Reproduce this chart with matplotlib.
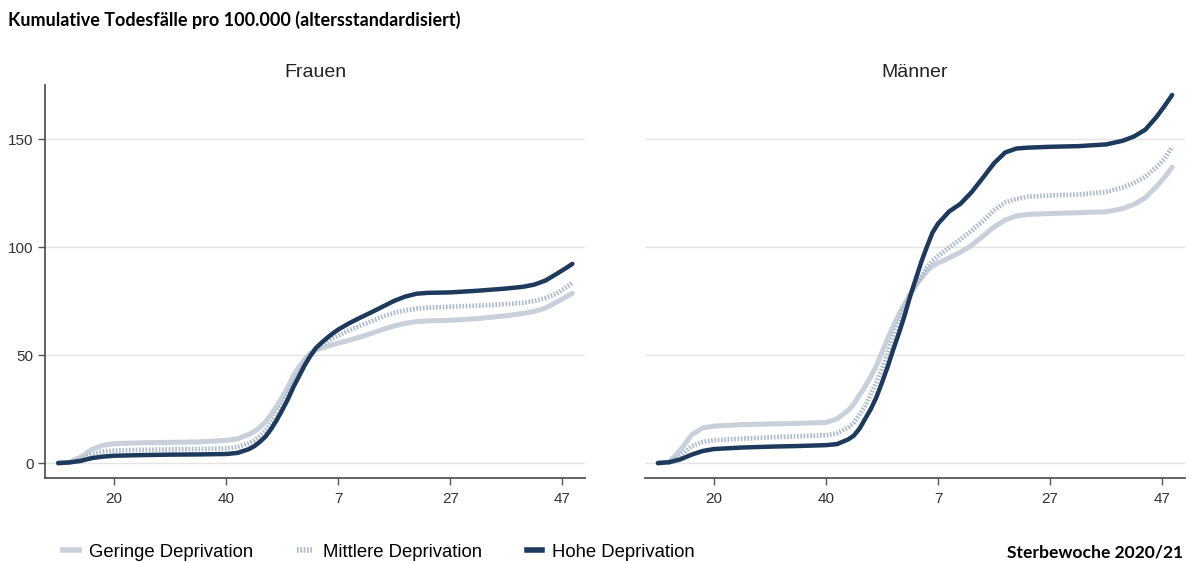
import matplotlib
matplotlib.use("Agg")
import matplotlib.pyplot as plt
from matplotlib.lines import Line2D

# continuous calendar-week index: 2020 weeks as-is, 2021 weeks + 53
weeks = [10, 12, 14, 16, 18, 20, 25, 30, 35, 40, 42, 44, 45, 46, 47, 48, 49, 50, 51, 52,
         53, 54, 55, 56, 57, 58, 59, 60, 62, 64, 66, 68, 70, 72, 74, 76, 80, 85, 90, 93,
         95, 97, 99, 100.5, 101.8]

frauen_geringe = [0, 0.3, 2.8, 6.3, 8.2, 9.0, 9.4, 9.6, 9.8, 10.5, 11.2, 13.2, 14.6, 16.5, 19, 22.5, 26.2, 30.5, 35, 40.5,
                  44.5, 48, 50.7, 52.3, 53.2, 54, 54.8, 55.5, 56.9, 58.4, 60.1, 61.9, 63.5, 64.7, 65.5, 65.8, 66.1, 66.9, 68.2, 69.3,
                  70.2, 71.8, 74.5, 76.7, 78.6]
frauen_mittlere = [0, 0.3, 1.8, 4.0, 5.3, 5.8, 6.1, 6.3, 6.5, 6.8, 7.4, 9.2, 10.5, 12.5, 14.8, 18.5, 22.8, 27.3, 32, 37.5,
                   42, 46.6, 50.2, 53, 54.8, 56.2, 57.7, 59, 61.5, 63.7, 65.7, 67.9, 69.6, 70.7, 71.5, 71.9, 72.4, 72.9, 73.6, 74.2,
                   75, 76.4, 78.5, 81, 83.5]
frauen_hohe = [0, 0.3, 1.0, 2.3, 3.0, 3.4, 3.7, 3.9, 4.0, 4.2, 4.7, 6.4, 7.8, 9.8, 12.2, 15.7, 19.8, 24.5, 29.5, 35.2,
               40.2, 45.2, 49.5, 53.2, 55.7, 57.9, 60, 61.8, 64.8, 67.4, 69.9, 72.5, 75.1, 77.1, 78.4, 78.8, 79, 79.8, 80.8, 81.6,
               82.6, 84.5, 87.6, 90, 92.2]

maenner_geringe = [0, 0.5, 6, 13, 16.3, 17.1, 17.8, 18.1, 18.4, 18.8, 20.5, 24.5, 27.5, 31.5, 35.5, 40, 45, 51.3, 57.5, 63.4,
                   68.8, 73.5, 78, 82.5, 85.5, 88.8, 91.2, 92.6, 95, 97.6, 100.8, 105, 109.3, 112.5, 114.4, 115.1, 115.5, 115.9, 116.3, 117.8,
                   119.8, 122.8, 128, 132.5, 137]
maenner_mittlere = [0, 0.3, 3.3, 7.8, 9.8, 10.6, 11.3, 11.9, 12.4, 12.9, 13.8, 16.5, 18.8, 22.5, 26.5, 31.8, 37.5, 43.5, 51, 58.7,
                    65.5, 72, 77.5, 82, 86, 90.5, 93.5, 95.8, 99.8, 103.6, 107.6, 112, 117, 120.6, 122.3, 123.3, 123.9, 124.3, 125.5, 127.6,
                    129.7, 132.5, 137, 141, 146.4]
maenner_hohe = [0, 0.4, 1.7, 3.9, 5.6, 6.5, 7.2, 7.6, 7.9, 8.3, 8.8, 11, 12.8, 16, 20.5, 25, 30.5, 37.3, 44.5, 52.5,
                60, 68, 77, 85, 93, 100, 106.6, 110.8, 116.5, 120, 125.4, 132, 138.8, 143.8, 145.6, 146, 146.4, 146.7, 147.5, 149.2,
                151.2, 154.3, 160.2, 165.5, 170.4]

tick_pos = [20, 40, 60, 80, 100]
tick_labels = ["20", "40", "7", "27", "47"]
y_ticks = [0, 50, 100, 150]

LIGHT = "#c8d0db"
MID = "#aebbcc"
DARK = "#1d3a5c"
SANS = ["Liberation Sans", "DejaVu Sans"]
BOLD = ["Lato", "DejaVu Sans"]

fig = plt.figure(figsize=(11.91, 5.63), dpi=100)
ax_l = fig.add_axes([0.038, 0.151, 0.4534, 0.698])
ax_r = fig.add_axes([0.5416, 0.151, 0.4534, 0.698], sharey=ax_l)


def draw(ax, geringe, mittlere, hohe, title):
    for y in y_ticks:
        ax.axhline(y, color="#e4e4e4", lw=1, zorder=0)
    ax.plot(weeks, geringe, color=LIGHT, lw=3.6, solid_capstyle="round", solid_joinstyle="round")
    ax.plot(weeks, mittlere, color=MID, lw=3.4, ls=(0, (0.35, 0.35)), dash_joinstyle="round")
    ax.plot(weeks, hohe, color=DARK, lw=3.2, solid_capstyle="round", solid_joinstyle="round")
    ax.set_xlim(7.7, 104.1)
    ax.set_ylim(-6.9, 175)
    ax.set_xticks(tick_pos)
    ax.set_xticklabels(tick_labels, fontfamily=SANS, fontsize=11, color="#333333")
    ax.tick_params(axis="x", length=5, width=1, color="#555555", pad=5)
    for s in ("top", "right"):
        ax.spines[s].set_visible(False)
    ax.spines["bottom"].set_color("#555555")
    ax.spines["bottom"].set_linewidth(1.3)
    ax.set_title(title, fontfamily=SANS, fontsize=14, color="#222222", pad=6)


draw(ax_l, frauen_geringe, frauen_mittlere, frauen_hohe, "Frauen")
draw(ax_r, maenner_geringe, maenner_mittlere, maenner_hohe, "Männer")

ax_l.set_yticks(y_ticks)
ax_l.set_yticklabels([str(v) for v in y_ticks], fontfamily=SANS, fontsize=11, color="#333333")
ax_l.tick_params(axis="y", length=5, width=1, color="#555555")
ax_l.spines["left"].set_color("#555555")
ax_l.spines["left"].set_linewidth(1.3)
ax_r.spines["left"].set_visible(False)
ax_r.tick_params(axis="y", left=False, labelleft=False)

fig.text(0.007, 0.964, "Kumulative Todesfälle pro 100.000 (altersstandardisiert)",
         fontfamily=BOLD, fontweight="bold", fontsize=13, va="center", ha="left")
fig.text(0.993, 0.0195, "Sterbewoche 2020/21",
         fontfamily=BOLD, fontweight="bold", fontsize=12.6, va="center", ha="right")

handles = [
    Line2D([], [], color=LIGHT, lw=4),
    Line2D([], [], color=MID, lw=4, ls=(0, (0.3, 0.3))),
    Line2D([], [], color=DARK, lw=4),
]
fig.legend(handles, ["Geringe Deprivation", "Mittlere Deprivation", "Hohe Deprivation"],
           loc="center left", bbox_to_anchor=(0.039, 0.0195), ncol=3, frameon=False,
           handlelength=0.85, columnspacing=2.4, handletextpad=0.55,
           prop={"family": SANS, "size": 13.3})

fig.savefig("out.png", dpi=100, facecolor="white")
